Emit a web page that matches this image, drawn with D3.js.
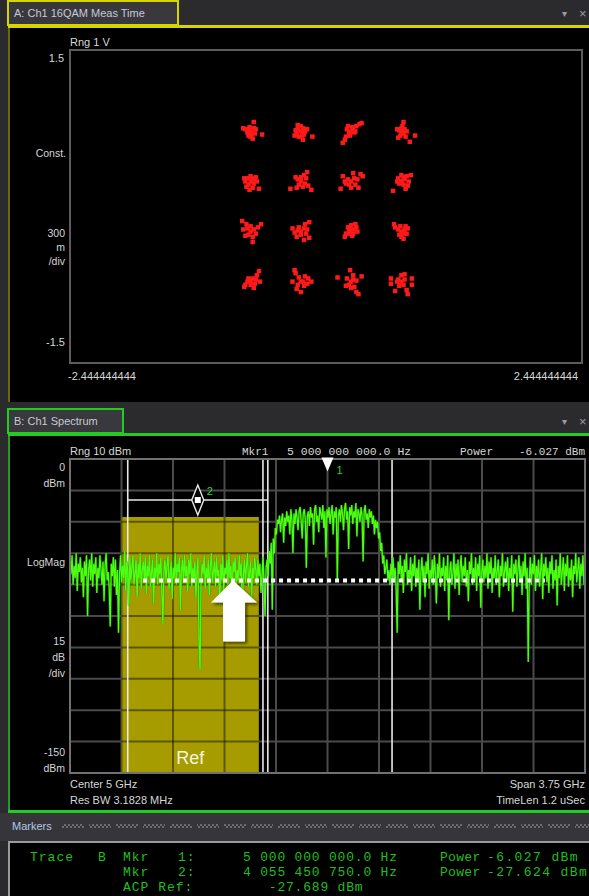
<!DOCTYPE html>
<html><head><meta charset="utf-8">
<script src="https://cdn.jsdelivr.net/npm/d3@7"></script>
<style>
html,body{margin:0;padding:0;background:#2b2b2e;overflow:hidden;}
svg{display:block;}
text{font-family:"Liberation Sans",Arial,sans-serif;}
.mono{font-family:"Liberation Mono","DejaVu Sans Mono",monospace;}
</style></head><body>
<svg id="c" width="589" height="896"></svg>
<script>
// ---------- Trace A: 16QAM constellation (volts) ----------
const iqLevels = [-0.72, -0.24, 0.24, 0.72];
const iRange = [-2.444444444, 2.444444444];
const qRange = [-1.5, 1.5];
const iTickLabels = ["-2.444444444", "2.444444444"];
const qTickLabels = ["1.5", "-1.5"];
// Measured error vectors [dI, dQ] for each ideal symbol.
// Rows run from Q = +0.72 down to Q = -0.72, columns from I = -0.72 to +0.72.
const symbolErrors = [
  [[0,0],[0.02,0.01],[-0.02,0.02],[0.01,-0.03],[-0.03,-0.01],[0.03,0.03],[-0.01,0.04],[0,-0.05],[0.04,-0.02],[-0.05,0.02],[0.03,0.09],[0.11,-0.03],[-0.07,0.03],[0.02,-0.07],[-0.02,-0.04],[0.05,0.02]],
  [[0,0],[-0.03,0.02],[0.02,0.03],[0.04,0],[-0.04,-0.02],[0.01,-0.04],[-0.02,-0.05],[0.03,-0.03],[-0.05,0.01],[0,0.05],[0.06,0.02],[-0.06,-0.04],[0.11,-0.05],[0.02,-0.08],[-0.03,0.06]],
  [[0,0],[-0.02,-0.01],[0.02,0.02],[-0.04,0.02],[0.03,-0.01],[0.05,0.05],[0.08,0.07],[0.10,0.08],[-0.05,-0.05],[-0.08,-0.11],[-0.06,-0.08],[0.01,0.04],[-0.03,0.05],[0.04,0],[-0.01,-0.04]],
  [[0,0],[0,0.03],[-0.02,0.01],[0.02,-0.02],[-0.01,-0.04],[0.03,0.02],[0.02,0.09],[0.13,-0.04],[0.08,-0.10],[-0.03,-0.06],[0.04,-0.05],[-0.04,0.02],[0.01,0.05],[0.05,0]],

  [[0,0],[-0.03,0.03],[0.03,0.02],[-0.02,-0.03],[0.03,-0.02],[0,0.05],[-0.05,0],[0.05,0.04],[-0.04,-0.05],[0.02,-0.06],[0.08,-0.07],[-0.06,0.03],[0.01,0.03],[0.06,0],[-0.01,-0.08]],
  [[0,0],[0.03,0.06],[0.06,0.09],[0.05,0.03],[0.04,-0.02],[-0.03,0.02],[-0.02,-0.03],[0.02,-0.05],[-0.10,-0.07],[0.10,-0.08],[-0.05,0.04],[0,0.04],[-0.04,-0.06],[0.07,-0.04]],
  [[0,0],[-0.03,0.02],[0.03,0.03],[-0.05,-0.02],[0.04,-0.03],[0,-0.06],[-0.10,-0.07],[0.09,0.07],[-0.08,0.05],[0.06,0.02],[0.02,0.08],[-0.02,-0.03],[0.07,-0.06],[-0.06,0],[0.11,0.05]],
  [[0,0],[0.03,0.02],[-0.03,0.03],[0.02,-0.03],[-0.02,-0.02],[0.05,0.05],[0.07,0],[-0.08,-0.09],[0.04,-0.07],[0.09,0.06],[0,0.06],[-0.04,0],[0.06,-0.04],[0.02,0.04]],

  [[0,0],[-0.03,0.03],[0.03,0.02],[-0.02,-0.03],[0.02,-0.05],[-0.07,0.02],[0.10,0.07],[0.07,0.04],[-0.08,0.10],[0.02,-0.10],[-0.05,-0.04],[0.05,-0.02],[0,0.05],[-0.04,0.07]],
  [[0,0],[-0.03,0.01],[0.03,0.03],[0,-0.03],[0.05,-0.02],[-0.06,-0.01],[0.04,0.07],[0.08,0.09],[-0.02,0.04],[0.08,-0.06],[0.03,-0.08],[-0.04,-0.05],[0.06,0.02],[-0.08,0.03]],
  [[0,0],[-0.02,0.02],[0.02,0.02],[-0.03,-0.02],[0.02,-0.02],[0,0.06],[0.04,0.07],[-0.06,-0.05],[-0.05,-0.02],[0.05,0.04],[0.01,-0.04],[-0.03,0.04],[0.06,0]],
  [[0,0],[0.02,-0.02],[-0.02,-0.03],[0.03,0.02],[0,-0.05],[0.05,-0.02],[-0.03,0.02],[0.04,0.05],[-0.07,0.07],[-0.06,0.04],[0.02,-0.07],[0.06,0.03],[-0.01,0.05]],

  [[0,0],[-0.03,0],[0.02,0.03],[0,-0.03],[0.04,-0.02],[-0.05,-0.03],[0.06,0.06],[0.08,0.10],[0.09,0],[-0.06,-0.05],[0.03,-0.06],[-0.02,0.03],[0.05,0.02]],
  [[0,0],[-0.02,0.04],[0.02,0],[-0.05,0.08],[-0.06,0.11],[0.03,-0.04],[-0.03,-0.03],[0.06,-0.02],[0.10,0],[-0.08,0],[0,-0.10],[0.04,0.05],[-0.04,-0.07],[0.07,0.03]],
  [[0,0],[0.02,0.02],[-0.02,-0.03],[0.03,-0.05],[-0.04,0.03],[-0.01,0.11],[-0.13,0.04],[0.10,0.05],[0.05,-0.10],[0.07,-0.12],[0.02,0.06],[-0.05,-0.04],[0.05,0.01],[0,-0.06]],
  [[0,0],[0.03,0.02],[-0.03,0.02],[0.02,-0.03],[-0.02,-0.04],[0.10,0.03],[0.10,-0.03],[-0.10,-0.02],[-0.10,0.03],[0,0.06],[0.05,-0.08],[0.06,-0.12],[-0.06,-0.09],[0.03,0.07],[-0.04,0]]
];

// ---------- Trace B: spectrum (dBm, 500 points across the span) ----------
const centerGHz = 5;
const spanGHz = 3.75;
const refDbm = 0;
const dbPerDiv = 15;
const divisions = 10;
const spectrumDbm = [
  // lower adjacent band
  -48,-55,-46,-60,-51,-57,-45,-63,-50,-54,
  -47,-59,-52,-66,-49,-56,-46,-75,-53,-48,
  -58,-45,-61,-50,-55,-47,-64,-52,-57,-46,
  -53,-60,-49,-68,-51,-45,-58,-54,-62,-80,
  -50,-56,-47,-61,-48,-65,-53,-83,-55,-46,
  -59,-51,-57,-44,-63,-49,-54,-70,-47,-58,
  -52,-46,-60,-55,-48,-66,-50,-57,-45,-62,
  -53,-49,-58,-47,-64,-51,-56,-46,-61,-54,
  -48,-69,-52,-57,-45,-60,-50,-55,-47,-63,
  -79,-53,-48,-58,-51,-46,-62,-55,-49,-67,
  -52,-57,-45,-60,-50,-54,-47,-72,-53,-48,
  -59,-46,-56,-51,-63,-48,-55,-45,-61,-52,
  -57,-49,-66,-53,-47,-88,-101,-58,-50,-55,
  -46,-62,-52,-57,-48,-65,-51,-45,-59,-54,
  -49,-61,-47,-56,-53,-70,-50,-58,-46,-63,
  -52,-55,-48,-60,-45,-57,-51,-68,-49,-54,
  -47,-62,-53,-58,-46,-56,-50,-84,-55,-48,
  -59,-51,-45,-61,-54,-49,-66,-52,-57,-47,
  -53,-60,-48,-56,-50,-64,-55,-47,-58,
  // rising edge
  -75,-52,-48,-56,-44,-50,-40,-72,-38,-45,-33,-36,-29,
  // main channel
  -31,-27,-35,-29,-26,-40,-28,-32,-25,-30,
  -27,-36,-24,-29,-45,-26,-31,-24,-28,-34,
  -25,-23,-30,-38,-26,-24,-29,-52,-27,-25,
  -32,-23,-28,-26,-41,-24,-22,-30,-27,-35,
  -23,-26,-29,-22,-33,-25,-47,-24,-28,-23,
  -31,-26,-22,-36,-25,-28,-23,-58,-27,-24,
  -30,-22,-26,-34,-24,-21,-29,-25,-43,-23,
  -27,-22,-31,-25,-28,-21,-37,-24,-26,-30,
  -23,-27,-49,-25,-22,-29,-26,-33,-24,-28,
  -25,-31,-27,-36,-29,
  // falling edge
  -33,-30,-38,-35,-44,-40,-50,-46,-55,-52,-48,-58,-53,-60,
  // upper adjacent band
  -50,-56,-47,-59,-52,-62,-83,-49,-55,-46,
  -58,-51,-64,-48,-54,-45,-60,-53,-57,-47,
  -63,-50,-56,-46,-61,-52,-58,-48,-72,-54,
  -47,-59,-51,-66,-49,-55,-45,-62,-53,-57,
  -48,-60,-46,-54,-69,-50,-57,-45,-61,-52,
  -56,-47,-63,-51,-58,-46,-77,-53,-49,-60,
  -55,-45,-62,-50,-57,-48,-65,-52,-46,-59,
  -51,-56,-47,-61,-53,-68,-49,-55,-45,-60,
  -52,-58,-47,-63,-50,-56,-46,-71,-54,-48,
  -59,-51,-57,-45,-62,-49,-55,-47,-64,-52,
  -57,-46,-60,-53,-48,-66,-51,-56,-45,-61,
  -54,-49,-58,-47,-63,-52,-57,-46,-73,-50,
  -55,-48,-61,-53,-46,-59,-51,-65,-49,-56,
  -45,-62,-52,-97,-58,-47,-60,-50,-55,-46,
  -63,-51,-57,-48,-61,-53,-45,-67,-50,-56,
  -47,-59,-52,-64,-49,-55,-46,-62,-53,-58,
  -48,-70,-51,-57,-45,-60,-54,-47,-63,-50,
  -56,-46,-61,-52,-58,-48,-66,-51,-55,-45,
  -59,-53,-47,-62,-50,-56,-46,-60,-49
];
const bandMarkers = [
  {id: "1", freq: 5.0, level: -6.027, band: 0.94, kind: "triangle"},
  {id: "2", freq: 4.05545075, level: -19.6, band: 1.02, kind: "diamond"}
];
const acpRef = {start: 3.5, stop: 4.5, level: -27.689, label: "Ref"};
const floorLine = {start: 3.657, stop: 6.583, level: -58};
const floorArrow = {freq: 4.312, level: -58};
const leftLabelsB = [
  {lines: ["0", "dBm"], y: 471},
  {lines: ["LogMag"], y: 566},
  {lines: ["15", "dB", "/div"], y: 645},
  {lines: ["-150", "dBm"], y: 756}
];
const markerRows = [
  ["Trace", "B", "Mkr", "1:", "5 000 000 000.0 Hz", "Power", "-6.027 dBm"],
  ["", "", "Mkr", "2:", "4 055 450 750.0 Hz", "Power", "-27.624 dBm"],
  ["", "", "ACP Ref:", "", "   -27.689 dBm", "", ""]
];

const svg = d3.select("#c");
const W = 589, H = 896;

// ---------------- window chrome ----------------
svg.append("rect").attr("width", W).attr("height", H).attr("fill", "#2b2b2e");

function tabBar(y0, title, tabW, accent) {
  svg.append("rect").attr("x", 8).attr("y", y0 + 1).attr("width", tabW).attr("height", 24)
    .attr("fill", "#38383d").attr("stroke", accent).attr("stroke-width", 2);
  svg.append("text").attr("x", 14).attr("y", y0 + 17).attr("font-size", 11)
    .attr("fill", "#c9c9d6").text(title);
  svg.append("text").attr("x", 562).attr("y", y0 + 17).attr("font-size", 10).attr("fill", "#9a9aa0").text("▾");
  svg.append("text").attr("x", 579).attr("y", y0 + 18).attr("font-size", 13).attr("fill", "#9a9aa0").text("×");
  svg.append("rect").attr("x", 8).attr("y", y0 + 25).attr("width", W - 8).attr("height", 3).attr("fill", accent);
}

// panel A
tabBar(0, "A: Ch1 16QAM Meas Time", 170, "#d8d400");
svg.append("rect").attr("x", 8).attr("y", 28).attr("width", W - 8).attr("height", 374).attr("fill", "#000");
svg.append("rect").attr("x", 8).attr("y", 28).attr("width", 2).attr("height", 374).attr("fill", "#6e6800");

// panel B
svg.append("rect").attr("x", 0).attr("y", 402).attr("width", W).attr("height", 32).attr("fill", "#2b2b2e");
tabBar(408, "B: Ch1 Spectrum", 115, "#22cc22");
svg.append("rect").attr("x", 8).attr("y", 436).attr("width", W - 8).attr("height", 375).attr("fill", "#000");
svg.append("rect").attr("x", 8).attr("y", 436).attr("width", 2).attr("height", 376).attr("fill", "#1f9f1f");
svg.append("rect").attr("x", 8).attr("y", 810).attr("width", W - 8).attr("height", 3).attr("fill", "#22cc22");

// ---------------- Trace A ----------------
const xA = d3.scaleLinear().domain(iRange).range([70, 582]);
const yA = d3.scaleLinear().domain(qRange).range([363, 50]);
const gA = svg.append("g");
gA.append("rect").attr("x", 70).attr("y", 50).attr("width", 512).attr("height", 313)
  .attr("fill", "none").attr("stroke", "#5c5c5c").attr("stroke-width", 2);

const lblA = "#d6d6d6";
gA.append("text").attr("x", 70).attr("y", 46).attr("font-size", 11).attr("fill", lblA).text("Rng 1 V");
gA.append("text").attr("x", 64).attr("y", yA(1.5) + 12).attr("text-anchor", "end").attr("font-size", 11).attr("fill", lblA).text(qTickLabels[0]);
gA.append("text").attr("x", 66).attr("y", 157).attr("text-anchor", "end").attr("font-size", 10.5).attr("fill", lblA).text("Const.");
["300", "m", "/div"].forEach((t, k) => gA.append("text").attr("x", 65).attr("y", 237 + k * 14)
  .attr("text-anchor", "end").attr("font-size", 10.5).attr("fill", lblA).text(t));
gA.append("text").attr("x", 65).attr("y", yA(-1.5) - 17).attr("text-anchor", "end").attr("font-size", 11).attr("fill", lblA).text(qTickLabels[1]);
gA.append("text").attr("x", xA(iRange[0]) - 2).attr("y", 380).attr("font-size", 11).attr("fill", lblA).text(iTickLabels[0]);
gA.append("text").attr("x", xA(iRange[1]) - 4).attr("y", 380).attr("text-anchor", "end").attr("font-size", 11).attr("fill", lblA).text(iTickLabels[1]);

const qRows = iqLevels.slice().reverse();
const pts = [];
symbolErrors.forEach((errs, k) => {
  const I = iqLevels[k % 4], Q = qRows[Math.floor(k / 4)];
  errs.forEach(([di, dq]) => pts.push([I + di, Q + dq]));
});
gA.append("g").selectAll("rect").data(pts).join("rect")
  .attr("x", d => xA(d[0]) - 2.25).attr("y", d => yA(d[1]) - 2.25)
  .attr("width", 4.5).attr("height", 4.5).attr("fill", "#ff1a1a");

// ---------------- Trace B ----------------
const fStart = centerGHz - spanGHz / 2, fStop = centerGHz + spanGHz / 2;
const xB = d3.scaleLinear().domain([fStart, fStop]).range([70, 585]);
const yB = d3.scaleLinear().domain([refDbm - dbPerDiv * divisions, refDbm]).range([773, 459]);
const gB = svg.append("g");
const defs = svg.append("defs");
defs.append("clipPath").attr("id", "plotB").append("rect").attr("x", 70).attr("y", 459).attr("width", 515).attr("height", 314);
defs.append("clipPath").attr("id", "refB").append("rect")
  .attr("x", xB(acpRef.start)).attr("y", yB(acpRef.level))
  .attr("width", xB(acpRef.stop) - xB(acpRef.start)).attr("height", yB(-150) - yB(acpRef.level));
const shadow = defs.append("filter").attr("id", "sh").attr("x", "-30%").attr("y", "-30%").attr("width", "160%").attr("height", "160%");
shadow.append("feDropShadow").attr("dx", 2).attr("dy", 2).attr("stdDeviation", 1.5).attr("flood-color", "#000").attr("flood-opacity", 0.6);

const vTicks = d3.range(divisions + 1).map(k => fStart + k * spanGHz / divisions);
const hTicks = d3.range(divisions + 1).map(k => refDbm - k * dbPerDiv);

function grid(g, color, w) {
  g.selectAll("line.v").data(vTicks).join("line").attr("class", "v")
    .attr("x1", d => xB(d)).attr("x2", d => xB(d)).attr("y1", 459).attr("y2", 773)
    .attr("stroke", color).attr("stroke-width", w);
  g.selectAll("line.h").data(hTicks).join("line").attr("class", "h")
    .attr("y1", d => yB(d)).attr("y2", d => yB(d)).attr("x1", 70).attr("x2", 585)
    .attr("stroke", color).attr("stroke-width", w);
}
grid(gB.append("g"), "#4a4a4a", 2);

// ACP reference band
gB.append("rect").attr("x", xB(acpRef.start)).attr("y", yB(acpRef.level))
  .attr("width", xB(acpRef.stop) - xB(acpRef.start)).attr("height", yB(-150) - yB(acpRef.level))
  .attr("fill", "#a69c00");
grid(gB.append("g").attr("clip-path", "url(#refB)"), "rgba(20,20,0,0.5)", 2);

// band edges of the markers
bandMarkers.forEach(m => {
  [m.freq - m.band / 2, m.freq + m.band / 2].forEach(f => gB.append("line")
    .attr("x1", xB(f)).attr("x2", xB(f)).attr("y1", 459).attr("y2", 773)
    .attr("stroke", "#e8e8e8").attr("stroke-width", 1.6));
});

// trace
const tStep = spanGHz / (spectrumDbm.length - 1);
const line = d3.line().x((d, i) => xB(fStart + i * tStep)).y(d => yB(d));
gB.append("path").attr("clip-path", "url(#plotB)").datum(spectrumDbm).attr("d", line)
  .attr("fill", "none").attr("stroke", "#1e8c00").attr("stroke-width", 2.4).attr("opacity", 0.6);
gB.append("path").attr("clip-path", "url(#plotB)").datum(spectrumDbm).attr("d", line)
  .attr("fill", "none").attr("stroke", "#4dff10").attr("stroke-width", 1.25);

// noise floor reference line
gB.append("line").attr("x1", xB(floorLine.start)).attr("x2", xB(floorLine.stop))
  .attr("y1", yB(floorLine.level)).attr("y2", yB(floorLine.level))
  .attr("stroke", "#fff").attr("stroke-width", 4).attr("stroke-dasharray", "4 4");

// arrow pointing at the floor line
const ax = xB(floorArrow.freq), ay = yB(floorArrow.level);
gB.append("path").attr("filter", "url(#sh)").attr("fill", "#fff")
  .attr("d", `M${ax},${ay} L${ax + 24},${ay + 22} L${ax + 12},${ay + 22} L${ax + 12},${ay + 61} L${ax - 10},${ay + 61} L${ax - 10},${ay + 22} L${ax - 22},${ay + 22} Z`);

// frame
gB.append("rect").attr("x", 70).attr("y", 459).attr("width", 515).attr("height", 314)
  .attr("fill", "none").attr("stroke", "#707070").attr("stroke-width", 2);

// ACP label
gB.append("text").attr("x", (xB(acpRef.start) + xB(acpRef.stop)) / 2).attr("y", 764)
  .attr("text-anchor", "middle").attr("font-size", 18).attr("fill", "#f4f4e0").text(acpRef.label);

// markers
bandMarkers.forEach(m => {
  const mx = xB(m.freq), my = yB(m.level);
  if (m.kind === "triangle") {
    gB.append("path").attr("d", `M${mx - 6},${my - 14} L${mx + 6},${my - 14} L${mx},${my} Z`).attr("fill", "#fff");
    gB.append("text").attr("x", mx + 9).attr("y", my + 2).attr("font-size", 11).attr("fill", "#2fd42f").text(m.id);
  } else {
    const l = xB(m.freq - m.band / 2), r = xB(m.freq + m.band / 2);
    gB.append("line").attr("x1", l).attr("x2", r).attr("y1", my).attr("y2", my).attr("stroke", "#e8e8e8").attr("stroke-width", 1.6);
    gB.append("path").attr("d", `M${mx},${my - 15} L${mx + 6},${my} L${mx},${my + 15} L${mx - 6},${my} Z`)
      .attr("fill", "#000").attr("stroke", "#e8e8e8").attr("stroke-width", 1.4);
    gB.append("rect").attr("x", mx - 3).attr("y", my - 3).attr("width", 6).attr("height", 6).attr("fill", "#fff");
    gB.append("text").attr("x", mx + 9).attr("y", my - 5).attr("font-size", 11).attr("fill", "#2fd42f").text(m.id);
  }
});

// labels around trace B
const lblB = "#d6d6d6";
gB.append("text").attr("x", 70).attr("y", 455).attr("font-size", 11).attr("fill", lblB).text("Rng 10 dBm");
gB.append("text").attr("class", "mono").attr("x", 242).attr("y", 455).attr("font-size", 11).attr("fill", lblB).text("Mkr1");
gB.append("text").attr("class", "mono").attr("x", 287).attr("y", 455).attr("font-size", 11.5).attr("fill", lblB).text("5 000 000 000.0 Hz");
gB.append("text").attr("class", "mono").attr("x", 460).attr("y", 455).attr("font-size", 11).attr("fill", lblB).text("Power");
gB.append("text").attr("class", "mono").attr("x", 585).attr("y", 455).attr("text-anchor", "end").attr("font-size", 11).attr("fill", lblB).text("-6.027 dBm");

leftLabelsB.forEach(lb => {
  lb.lines.forEach((t, k) => gB.append("text").attr("x", 65).attr("y", lb.y + k * 16)
    .attr("text-anchor", "end").attr("font-size", 10.5).attr("fill", lblB).text(t));
});
gB.append("text").attr("x", 70).attr("y", 788).attr("font-size", 11).attr("fill", lblB).text("Center 5 GHz");
gB.append("text").attr("x", 70).attr("y", 804).attr("font-size", 11).attr("fill", lblB).text("Res BW 3.1828 MHz");
gB.append("text").attr("x", 585).attr("y", 788).attr("text-anchor", "end").attr("font-size", 11).attr("fill", lblB).text("Span 3.75 GHz");
gB.append("text").attr("x", 585).attr("y", 804).attr("text-anchor", "end").attr("font-size", 11).attr("fill", lblB).text("TimeLen 1.2 uSec");

// ---------------- Markers table ----------------
svg.append("rect").attr("x", 0).attr("y", 813).attr("width", W).attr("height", 28).attr("fill", "#35353a");
svg.append("text").attr("x", 12).attr("y", 830).attr("font-size", 11).attr("fill", "#b4c8e6").text("Markers");
const pat = defs.append("pattern").attr("id", "grip").attr("width", 4).attr("height", 4).attr("patternUnits", "userSpaceOnUse");
pat.append("rect").attr("width", 2).attr("height", 2).attr("fill", "#6c6c70");
pat.append("rect").attr("x", 2).attr("y", 2).attr("width", 2).attr("height", 2).attr("fill", "#6c6c70");
d3.range(62, W, 27).forEach(x => svg.append("rect").attr("x", x).attr("y", 824).attr("width", 22).attr("height", 4).attr("fill", "url(#grip)"));

svg.append("rect").attr("x", 9).attr("y", 842).attr("width", W - 8).attr("height", 60)
  .attr("fill", "#000").attr("stroke", "#9a9a9a").attr("stroke-width", 2);
const colX = [30, 98, 123, 178, 243, 440, 487];
const colSpacing = [1.0, 0, 1.0, 1.0, 0.8, 0.3, 1.4];
markerRows.forEach((row, r) => row.forEach((t, c) => {
  if (!t) return;
  svg.append("text").attr("class", "mono").attr("x", colX[c]).attr("y", 861 + r * 15)
    .attr("font-size", 13).attr("letter-spacing", colSpacing[c]).attr("fill", "#1fbf1f")
    .style("white-space", "pre").text(t);
}));
</script>
</body></html>
